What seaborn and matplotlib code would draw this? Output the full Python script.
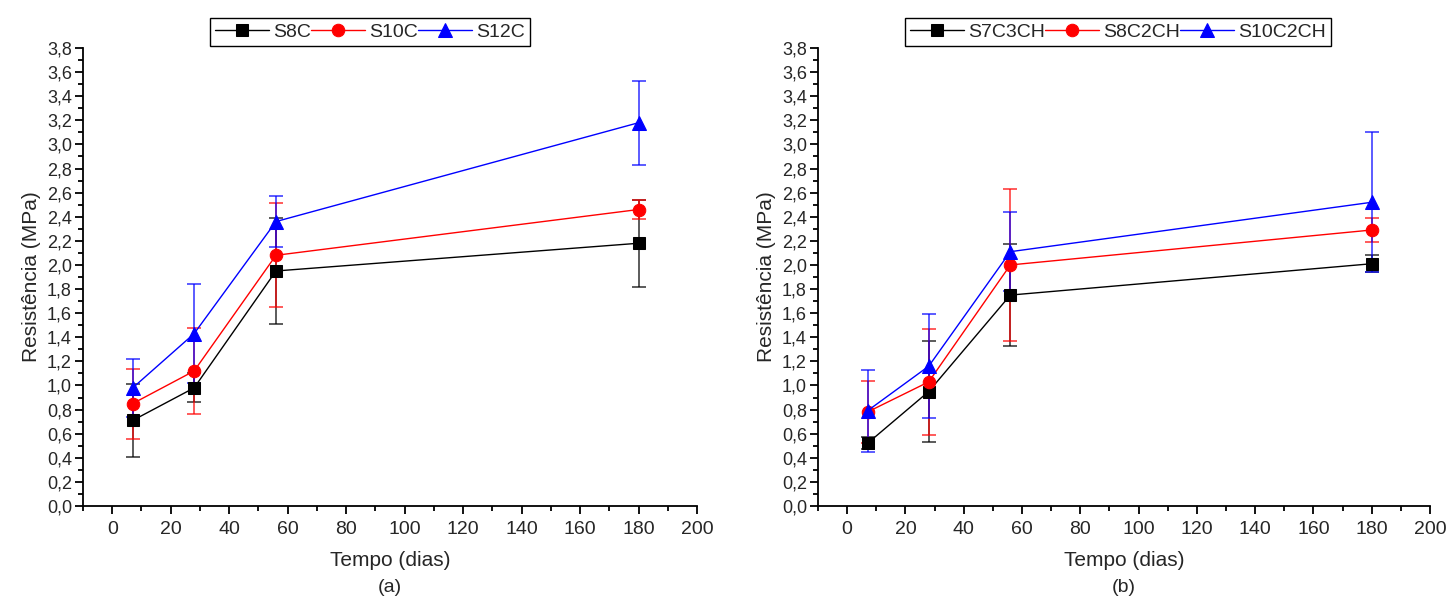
import numpy as np
import pandas as pd
import matplotlib
matplotlib.use("Agg")
import matplotlib.pyplot as plt
import seaborn as sns
from matplotlib.ticker import MultipleLocator, FuncFormatter
from matplotlib import font_manager

# ---------------- data ----------------
dias = [7, 28, 56, 180]

series_a = ["S8C", "S10C", "S12C"]
vals_a = {
    "S8C":  [0.71, 0.98, 1.95, 2.18],
    "S10C": [0.85, 1.12, 2.08, 2.46],
    "S12C": [0.98, 1.43, 2.36, 3.18],
}
errs_a = {
    "S8C":  [0.30, 0.12, 0.44, 0.36],
    "S10C": [0.29, 0.36, 0.43, 0.08],
    "S12C": [0.24, 0.41, 0.21, 0.35],
}

series_b = ["S7C3CH", "S8C2CH", "S10C2CH"]
vals_b = {
    "S7C3CH":  [0.52, 0.95, 1.75, 2.01],
    "S8C2CH":  [0.78, 1.03, 2.00, 2.29],
    "S10C2CH": [0.79, 1.16, 2.11, 2.52],
}
errs_b = {
    "S7C3CH":  [0.05, 0.42, 0.42, 0.07],
    "S8C2CH":  [0.26, 0.44, 0.63, 0.10],
    "S10C2CH": [0.34, 0.43, 0.33, 0.58],
}

xlabel = "Tempo (dias)"
ylabel = "Resistência (MPa)"
panel_labels = ["(a)", "(b)"]

colors = ["#000000", "#ff0000", "#0000ff"]
markers = ["s", "o", "^"]
msizes = [8, 9, 10]

# ---------------- style ----------------
sns.set_theme(style="white")
plt.rcParams["font.family"] = ["Liberation Sans", "DejaVu Sans"]
avail = {f.name for f in font_manager.fontManager.ttflist}
narrow = ["Liberation Sans Narrow", "Liberation Sans", "DejaVu Sans"] \
    if "Liberation Sans Narrow" in avail else ["Liberation Sans", "DejaVu Sans"]

fig = plt.figure(figsize=(14.48, 5.96), dpi=100)
ax_a = fig.add_axes([83 / 1448, 90 / 596, 614 / 1448, 458 / 596])
ax_b = fig.add_axes([818 / 1448, 90 / 596, 612 / 1448, 458 / 596])


def draw(ax, names, vals, errs, leg_x, plabel):
    rows = []
    for n in names:
        for d, v in zip(dias, vals[n]):
            rows.append({"dia": d, "val": v, "serie": n})
    df = pd.DataFrame(rows)
    # error bars first
    for i, n in enumerate(names):
        ax.errorbar(dias, vals[n], yerr=errs[n], fmt="none", ecolor=colors[i],
                    elinewidth=1.2, capsize=5, capthick=1.2, alpha=0.75, zorder=2 + i)
    for i, n in enumerate(names):
        sub = df[df["serie"] == n]
        sns.lineplot(data=sub, x="dia", y="val", ax=ax, color=colors[i],
                     marker=markers[i], markersize=msizes[i], markeredgecolor=colors[i],
                     linewidth=1.0, label=n, zorder=5 + i, errorbar=None)
    ax.set_xlim(-10, 200)
    ax.set_ylim(0, 3.8)
    ax.xaxis.set_major_locator(MultipleLocator(20))
    ax.xaxis.set_minor_locator(MultipleLocator(10))
    ax.yaxis.set_major_locator(MultipleLocator(0.2))
    ax.yaxis.set_minor_locator(MultipleLocator(0.1))
    ax.yaxis.set_major_formatter(FuncFormatter(lambda v, p: f"{v:.1f}".replace(".", ",")))
    for s in ["top", "right"]:
        ax.spines[s].set_visible(False)
    for s in ["left", "bottom"]:
        ax.spines[s].set_color("black")
        ax.spines[s].set_linewidth(1.3)
    ax.tick_params(which="major", direction="out", length=6, width=1.3, color="black",
                   left=True, bottom=True, labelsize=13, pad=2)
    ax.tick_params(which="minor", direction="out", length=3.5, width=1.3, color="black",
                   left=True, bottom=True)
    ax.tick_params(axis="x", which="major", pad=5)
    for t in ax.get_xticklabels():
        t.set_family(narrow)
        t.set_fontsize(14)
    ax.set_xlabel(xlabel, fontsize=15, family=narrow, labelpad=9)
    ax.set_ylabel(ylabel, fontsize=15, labelpad=4)
    ax.grid(False)
    leg = ax.legend(loc="lower center", bbox_to_anchor=(leg_x, 1.005), ncol=3,
                    frameon=True, fancybox=False, edgecolor="black", framealpha=1,
                    fontsize=14, handlelength=2.8, handletextpad=0.2, columnspacing=0.0,
                    borderpad=0.25, borderaxespad=0.0)
    leg.get_frame().set_linewidth(1.0)
    ax.text(0.5, -0.178, plabel, transform=ax.transAxes, ha="center", va="center",
            fontsize=14, family=narrow)


draw(ax_a, series_a, vals_a, errs_a, 0.467, panel_labels[0])
draw(ax_b, series_b, vals_b, errs_b, 0.49, panel_labels[1])

fig.savefig("out.png", dpi=100, facecolor="white")
